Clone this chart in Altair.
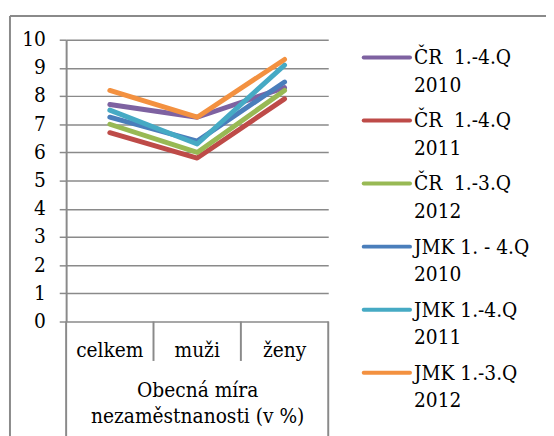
import altair as alt
import pandas as pd

categories = ["celkem", "muži", "ženy"]
series = ["ČR 1.-4.Q 2010", "ČR 1.-4.Q 2011", "ČR 1.-3.Q 2012",
          "JMK 1. - 4.Q 2010", "JMK 1.-4.Q 2011", "JMK 1.-3.Q 2012"]
legend_line1 = ["ČR\u00a0\u00a01.-4.Q", "ČR\u00a0\u00a01.-4.Q", "ČR\u00a0\u00a01.-3.Q",
                "JMK 1. - 4.Q", "JMK 1.-4.Q", "JMK 1.-3.Q"]
legend_line2 = ["2010", "2011", "2012", "2010", "2011", "2012"]
colors = ["#7E62A1", "#BE4B48", "#98B954", "#4A7EBB", "#46AAC4", "#F39140"]

cr_2010 = [7.7, 7.25, 8.3]
cr_2011 = [6.7, 5.8, 7.9]
cr_2012 = [7.0, 6.0, 8.2]
jmk_2010 = [7.25, 6.4, 8.5]
jmk_2011 = [7.5, 6.3, 9.1]
jmk_2012 = [8.2, 7.25, 9.3]
series_values = [cr_2010, cr_2011, cr_2012, jmk_2010, jmk_2011, jmk_2012]

rows = []
for s, vals in zip(series, series_values):
    for c, v in zip(categories, vals):
        rows.append({"series": s, "cat": c, "value": v})
df = pd.DataFrame(rows)

leg = pd.DataFrame({"series": series, "l1": legend_line1, "l2": legend_line2})
cat_df = pd.DataFrame({"cat": categories})
one = pd.DataFrame({"a": [0]})

W, H = 266, 286
FONT = "DejaVu Serif Condensed, DejaVu Serif"
FS = 21
GRAY = "#8a8a8a"

xscale = alt.Scale(type="band", domain=categories, paddingInner=0, paddingOuter=0)
cscale = alt.Scale(domain=series, range=colors)

x_axis = alt.Axis(title=["Obecná míra", "nezaměstnanosti (v %)"],
                  ticks=False, domain=False, grid=False, labelAngle=0,
                  labelFont=FONT, labelFontSize=FS, labelColor="black",
                  labelBaseline="alphabetic", labelPadding=35,
                  titleFont=FONT, titleFontSize=FS, titleFontWeight="normal",
                  titleColor="black", titleY=76, titleBaseline="alphabetic",
                  titleLineHeight=26)

frame_left = alt.Chart(one).mark_rule(color=GRAY, strokeWidth=2).encode(
    x=alt.value(-57), y=alt.value(-24), y2=alt.value(H + 130))
frame_top = alt.Chart(one).mark_rule(color=GRAY, strokeWidth=2).encode(
    x=alt.value(-57), x2=alt.value(W + 240), y=alt.value(-24))

lines = alt.Chart(df).mark_line(strokeWidth=5, strokeCap="round", strokeJoin="round").encode(
    x=alt.X("cat:N", scale=xscale, sort=categories, bandPosition=0.5, axis=x_axis),
    y=alt.Y("value:Q", scale=alt.Scale(domain=[0, 10]),
            axis=alt.Axis(title=None, values=list(range(11)), tickSize=7, tickColor=GRAY,
                          tickWidth=1.5, domainColor=GRAY, domainWidth=2,
                          gridColor=GRAY, gridWidth=1.5, gridOpacity=1,
                          labelFont=FONT, labelFontSize=FS, labelColor="black",
                          labelPadding=14)),
    color=alt.Color("series:N", scale=cscale, sort=series, legend=None),
)

seps = alt.Chart(cat_df).transform_filter(
    alt.FieldOneOfPredicate(field="cat", oneOf=categories[1:])
).mark_rule(color=GRAY, strokeWidth=2).encode(
    x=alt.X("cat:N", scale=xscale, sort=categories, bandPosition=0, axis=x_axis),
    y=alt.value(H), y2=alt.value(H + 40))

edge_left = alt.Chart(cat_df).transform_filter(
    alt.FieldEqualPredicate(field="cat", equal=categories[0])
).mark_rule(color=GRAY, strokeWidth=2).encode(
    x=alt.X("cat:N", scale=xscale, sort=categories, bandPosition=0, axis=x_axis),
    y=alt.value(H), y2=alt.value(H + 130))

edge_right = alt.Chart(cat_df).transform_filter(
    alt.FieldEqualPredicate(field="cat", equal=categories[-1])
).mark_rule(color=GRAY, strokeWidth=2).encode(
    x=alt.X("cat:N", scale=xscale, sort=categories, bandPosition=1, axis=x_axis),
    y=alt.value(H), y2=alt.value(H + 130))

lscale = alt.Scale(type="point", domain=series, range=[18, 338], padding=0)

leg_sym = alt.Chart(leg).mark_rule(strokeWidth=4, strokeCap="round").encode(
    x=alt.value(302), x2=alt.value(349),
    y=alt.Y("series:N", scale=lscale, axis=None),
    color=alt.Color("series:N", scale=cscale, sort=series, legend=None))
leg_t1 = alt.Chart(leg).mark_text(align="left", baseline="middle", font=FONT,
                                  fontSize=FS, color="black", dy=1).encode(
    x=alt.value(353), y=alt.Y("series:N", scale=lscale, axis=None), text="l1:N")
leg_t2 = alt.Chart(leg).mark_text(align="left", baseline="middle", font=FONT,
                                  fontSize=FS, color="black", dy=29).encode(
    x=alt.value(353), y=alt.Y("series:N", scale=lscale, axis=None), text="l2:N")

chart = alt.layer(
    frame_left, frame_top, lines, seps, edge_left, edge_right,
    alt.layer(leg_sym, leg_t1, leg_t2)
).resolve_scale(y="independent").properties(
    width=W, height=H, autosize="none",
    padding={"left": 59, "top": 29, "right": 221, "bottom": 113},
    background="white",
).configure(font=FONT).configure_view(stroke=None)

chart.save("out.html", embed_options={"renderer": "svg", "actions": False})
